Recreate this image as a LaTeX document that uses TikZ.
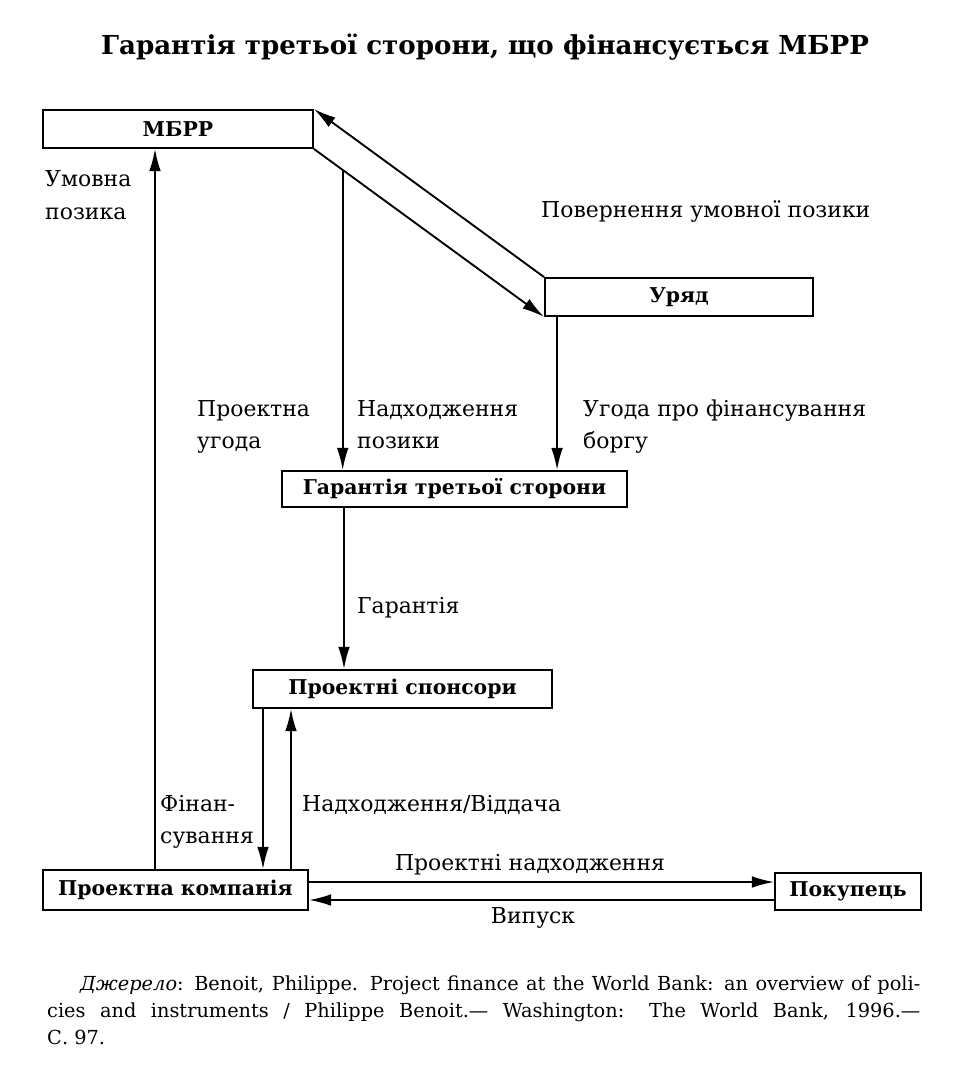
\documentclass[tikz,border=0pt]{standalone}
\usepackage{fontspec}
\setmainfont{DejaVu Serif}
\usetikzlibrary{arrows.meta,calc}
\begin{document}
\begin{tikzpicture}[x=0.03cm,y=-0.03cm,
 box/.style={draw, line width=1.6pt, inner sep=0pt, font=\bfseries\fontsize{17.4}{20}\selectfont},
 lbl/.style={anchor=base west, inner sep=0pt, font=\fontsize{18.7}{22}\selectfont},
 clbl/.style={anchor=base, inner sep=0pt, font=\fontsize{18.7}{22}\selectfont},
 src/.style={anchor=base west, inner sep=0pt, font=\fontsize{16.5}{19}\selectfont},
 arr/.style={-{Latex[length=19pt,width=10pt]}, line width=1.6pt}]
\useasboundingbox (0,0) rectangle (971,1073);
\fill[white] (0,0) rectangle (971,1073);

\node[anchor=base, inner sep=0pt, font=\bfseries\fontsize{22.3}{26}\selectfont] (title) at (485,55) {Гарантія третьої сторони, що фінансується МБРР};

\node[box, minimum width=8.1cm, minimum height=1.14cm] (mbrr) at (178,129) {МБРР};
\node[box, minimum width=8.04cm, minimum height=1.14cm] (uryad) at (679,297) {Уряд};
\node[box, minimum width=10.35cm, minimum height=1.08cm] (garant) at (454.5,489) {Гарантія третьої сторони};
\node[box, minimum width=8.97cm, minimum height=1.14cm] (spons) at (402.5,689) {Проектні спонсори};
\node[box, minimum width=7.95cm, minimum height=1.2cm] (komp) at (175.5,890) {Проектна компанія};
\node[box, minimum width=4.38cm, minimum height=1.11cm] (pok) at (848,891.5) {Покупець};

% diagonal arrows
\draw[arr] (uryad.north west) -- (mbrr.north east);
\draw[arr] (mbrr.south east) -- (uryad.south west);
\coordinate (d1) at ($(mbrr.south east)!0.125!(uryad.south west)$);
\draw[arr] (d1) -- (d1 |- garant.north);
\coordinate (u1) at ([xshift=0.39cm]uryad.south west);
\draw[arr] (u1) -- (u1 |- garant.north);
\coordinate (g1) at (344,600);
\draw[arr] (garant.south -| g1) -- (spons.north -| g1);
\coordinate (s1) at (263,790);
\coordinate (s2) at (291,790);
\draw[arr] (spons.south -| s1) -- (komp.north -| s1);
\draw[arr] (komp.north -| s2) -- (spons.south -| s2);
\coordinate (k1) at (155,500);
\draw[arr] (komp.north -| k1) -- (mbrr.south -| k1);
\coordinate (h1) at (500,882);
\coordinate (h2) at (500,900);
\draw[arr] (komp.east |- h1) -- (pok.west |- h1);
\draw[arr] (pok.west |- h2) -- (komp.east |- h2);

% labels
\node[lbl] (l1) at (45,187) {Умовна};
\node[lbl] (l2) at (45,219) {позика};
\node[lbl] (l3) at (541,218) {Повернення умовної позики};
\node[lbl] (l4) at (197,416) {Проектна};
\node[lbl] (l5) at (197,448) {угода};
\node[lbl] (l6) at (357,416) {Надходження};
\node[lbl] (l7) at (357,448) {позики};
\node[lbl] (l8) at (583,416) {Угода про фінансування};
\node[lbl] (l9) at (583,448) {боргу};
\node[lbl] (l10) at (357,613) {Гарантія};
\node[lbl] (l11) at (160,811) {Фінан-};
\node[lbl] (l12) at (160,843) {сування};
\node[lbl] (l13) at (302,811) {Надходження/Віддача};
\node[clbl] (l14) at (530,870) {Проектні надходження};
\node[clbl] (l15) at (533,923) {Випуск};

% source
\node[src] (s1t) at (80,990) {\makebox[25.2cm][s]{\textit{Джерело}: Benoit, Philippe. Project finance at the World Bank: an overview of poli-}};
\node[src] (s2t) at (47,1017) {\makebox[26.19cm][s]{cies and instruments / Philippe Benoit.— Washington: The World Bank, 1996.—}};
\node[src] (s3t) at (47,1044) {С. 97.};
\end{tikzpicture}
\end{document}
